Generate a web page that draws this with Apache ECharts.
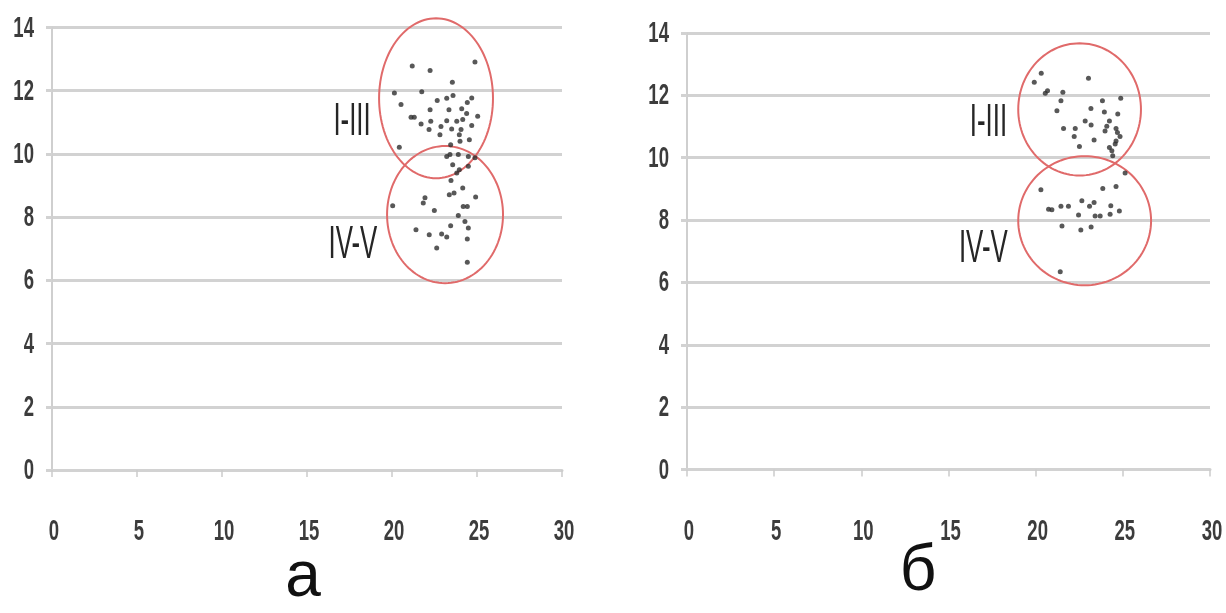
<!DOCTYPE html>
<html><head><meta charset="utf-8">
<script src="https://cdn.jsdelivr.net/npm/echarts@6/dist/echarts.min.js"></script>
<style>html,body{margin:0;padding:0;background:#fff}#c{width:1226px;height:613px}</style>
</head><body><div id="c"></div>
<script>
// ---- data ----
const xTicks = [0, 5, 10, 15, 20, 25, 30];
const yTicks = [0, 2, 4, 6, 8, 10, 12, 14];

// panel "а"
const aX = [21.19,22.24,24.88,23.55,20.14,21.75,20.53,22.66,23.22,23.59,24.69,24.43,22.24,23.35,24.10,24.39,21.12,21.31,21.71,22.28,23.22,23.81,24.16,25.04,22.18,22.88,22.82,23.51,24.06,24.69,23.96,24.55,20.43,23.45,24.00,23.22,23.41,23.90,24.49,24.88,23.57,23.96,23.81,24.49,23.47,24.16,23.37,23.65,21.94,21.84,24.92,20.04,24.19,24.43,22.49,23.90,24.29,23.45,24.49,21.41,22.19,22.92,23.22,24.43,22.63,24.43];
const aY = [12.78,12.64,12.91,12.27,11.93,11.97,11.56,11.69,11.76,11.85,11.77,11.63,11.40,11.40,11.43,11.28,11.16,11.16,10.95,11.03,11.05,11.03,11.09,11.19,10.77,10.87,10.61,10.79,10.77,10.90,10.61,10.45,10.21,10.29,10.40,9.92,9.98,9.98,9.92,9.88,9.66,9.50,9.40,9.61,9.16,8.92,8.71,8.76,8.61,8.45,8.64,8.36,8.34,8.34,8.21,8.05,7.86,7.73,7.66,7.60,7.44,7.47,7.37,7.31,7.02,6.57];

// panel "б"
const bX = [19.92,20.32,23.03,20.55,20.68,21.56,21.45,23.83,24.88,21.22,23.17,23.94,24.71,22.84,23.18,24.23,21.60,22.27,22.21,24.08,23.98,24.61,24.69,24.84,23.35,24.61,24.56,22.51,24.23,24.37,24.42,25.13,20.30,23.85,24.61,20.74,20.93,21.45,21.88,22.65,23.09,23.35,22.46,23.41,23.70,24.31,24.27,24.80,21.51,22.59,23.18,21.41];
const bY = [12.42,12.71,12.55,12.07,12.15,12.10,11.83,11.83,11.91,11.51,11.58,11.47,11.40,11.18,11.05,11.18,10.94,10.94,10.68,11.01,10.86,10.94,10.81,10.68,10.57,10.54,10.44,10.36,10.33,10.22,10.06,9.51,8.97,9.01,9.08,8.35,8.33,8.44,8.44,8.62,8.44,8.56,8.16,8.13,8.13,8.46,8.19,8.29,7.81,7.68,7.78,6.34];

// group ellipses: [centerX, centerY, radiusX, radiusY] in data units
const aGroups = [[22.59, 11.76, 3.35, 2.53], [23.12, 8.08, 3.41, 2.17]];
const bGroups = [[22.52, 11.55, 3.52, 2.12], [22.81, 7.98, 3.81, 2.07]];
// group labels
const groupNames = ['I-III', 'IV-V'];
const aLabelPos = [[17.65, 11.0], [17.7, 7.12]];
const bLabelPos = [[17.29, 11.12], [17.0, 7.08]];
const panelNames = ['а', 'б'];

// ---- chart ----
const TICK_FONT = "'Liberation Sans','Arial',sans-serif";
const GRID_C = '#d2d2d2';
const chart = echarts.init(document.getElementById('c'), null, {renderer: 'canvas'});

function xAxis(gi) {
  return {
    type: 'value', gridIndex: gi, min: 0, max: 30, interval: 5,
    axisLine: {show: true, onZero: false, lineStyle: {color: GRID_C, width: 3}},
    axisTick: {show: true, length: 7, lineStyle: {color: '#cccccc', width: 1.5}},
    splitLine: {show: false},
    axisLabel: {show: false}
  };
}
function yAxis(gi) {
  return {
    type: 'value', gridIndex: gi, min: 0, max: 14, interval: 2,
    axisLine: {show: true, lineStyle: {color: '#cfcfcf', width: 2}},
    axisTick: {show: true, length: 6, lineStyle: {color: GRID_C, width: 3}},
    splitLine: {show: true, lineStyle: {color: GRID_C, width: 3}},
    axisLabel: {show: false}
  };
}

function zip(xs, ys) { return xs.map((x, i) => [x, ys[i]]); }

// tick labels drawn through the axis scale (narrow, condensed look)
function tickLabelSeries(gi) {
  const data = xTicks.map(v => [v, 0, 0]).concat(yTicks.map(v => [0, v, 1]));
  return {
    type: 'custom', xAxisIndex: gi, yAxisIndex: gi, silent: true, clip: false, z: 4,
    data: data,
    renderItem: function (params, api) {
      const isY = api.value(2) === 1;
      const v = isY ? api.value(1) : api.value(0);
      const c = api.coord([api.value(0), api.value(1)]);
      return {type: 'text', x: isY ? c[0] - 18 : c[0] + 2, y: isY ? c[1] + 1 : c[1] + 62, scaleX: 0.64,
        style: {text: String(v), x: 0, y: 0, align: isY ? 'right' : 'center', verticalAlign: 'middle',
          fontFamily: TICK_FONT, fontSize: 29, fontWeight: 'bold', fill: '#3c3c3c'}};
    }
  };
}

function ellipseSeries(gi, groups) {
  return {
    type: 'custom', xAxisIndex: gi, yAxisIndex: gi, silent: true, clip: false, z: 3,
    data: groups,
    renderItem: function (params, api) {
      const cx = api.value(0), cy = api.value(1), rx = api.value(2), ry = api.value(3);
      const pts = [];
      for (let k = 0; k < 120; k++) {
        const t = k / 120 * Math.PI * 2;
        pts.push(api.coord([cx + rx * Math.cos(t), cy + ry * Math.sin(t)]));
      }
      return {type: 'polygon', shape: {points: pts},
        style: {fill: 'none', stroke: '#e06a6a', lineWidth: 2}};
    }
  };
}
function labelSeries(gi, pos) {
  return {
    type: 'custom', xAxisIndex: gi, yAxisIndex: gi, silent: true, clip: false, z: 4,
    data: pos.map((p, i) => [p[0], p[1], i]),
    renderItem: function (params, api) {
      const c = api.coord([api.value(0), api.value(1)]);
      return {type: 'text', x: c[0], y: c[1], scaleX: 0.55,
        style: {text: groupNames[api.value(2)], x: 0, y: 0, align: 'center', verticalAlign: 'middle',
          fontFamily: "'Liberation Sans',sans-serif", fontSize: 47, fill: '#262626'}};
    }
  };
}
function scatter(gi, xs, ys) {
  return {type: 'scatter', xAxisIndex: gi, yAxisIndex: gi, symbol: 'circle', symbolSize: 5,
    itemStyle: {color: '#2e2e2e'}, data: zip(xs, ys), z: 5, silent: true};
}

chart.setOption({
  animation: false,
  grid: [
    {left: 52, top: 27.5, width: 510, height: 442.5, containLabel: false},
    {left: 687, top: 33, width: 523, height: 436.5, containLabel: false}
  ],
  xAxis: [xAxis(0), xAxis(1)],
  yAxis: [yAxis(0), yAxis(1)],
  graphic: [
    {type: 'text', x: 303, y: 578, style: {text: panelNames[0], align: 'center', verticalAlign: 'middle',
      fontFamily: "'Liberation Sans',sans-serif", fontSize: 64, fill: '#111'}},
    {type: 'text', x: 918, y: 572, style: {text: panelNames[1], align: 'center', verticalAlign: 'middle',
      fontFamily: "'Liberation Sans',sans-serif", fontSize: 64, fill: '#111'}}
  ],
  series: [
    scatter(0, aX, aY), scatter(1, bX, bY),
    ellipseSeries(0, aGroups), ellipseSeries(1, bGroups),
    labelSeries(0, aLabelPos), labelSeries(1, bLabelPos),
    tickLabelSeries(0), tickLabelSeries(1)
  ]
});
</script></body></html>
